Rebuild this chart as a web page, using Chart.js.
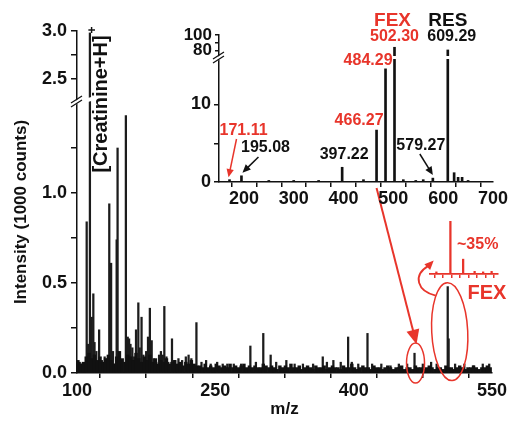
<!DOCTYPE html>
<html>
<head>
<meta charset="utf-8">
<script src="https://cdn.jsdelivr.net/npm/chart.js@4.4.1/dist/chart.umd.min.js"></script>
<style>
  html, body { margin: 0; padding: 0; background: #fff; }
  #wrap { position: relative; width: 509px; height: 434px; }
  #wrap canvas { position: absolute; }
</style>
</head>
<body>
<div id="wrap">
  <canvas id="main" width="509" height="434" style="left:0;top:0"></canvas>
  <canvas id="inset" width="349" height="210" style="left:160px;top:0"></canvas>
  <canvas id="mini" width="90" height="80" style="left:415px;top:205px"></canvas>
</div>
<script>
// main spectrum: labelled / visible peaks (m/z, intensity in 1000 counts)
const peakMz = [103, 105, 110.5, 112, 114, 116, 117.7, 119, 121, 124, 127, 130, 133, 135, 137, 139, 141, 143, 144,
  146, 149, 153, 155, 156.5, 158, 160, 162, 164, 166.5, 168, 170, 172, 175, 177, 179, 181, 183, 186, 189, 191, 193,
  194.7, 197, 199, 203, 206, 210, 214, 218, 221, 224, 229.5, 235, 240, 245, 252, 258, 263, 270, 278, 288, 294, 302,
  310, 316, 327, 336, 345, 356, 366.5, 371, 378, 386, 394, 398, 405, 415, 420, 430, 440, 449, 458, 466, 475, 484,
  490, 502, 503, 510, 520, 530, 540, 547];
const peakInt = [0.06, 0.05, 0.84, 0.16, 2.98, 0.31, 0.44, 0.17, 0.12, 0.24, 0.07, 0.09, 0.08, 0.94, 0.61, 0.12, 0.05, 0.74, 1.25,
  0.10, 0.06, 1.43, 0.20, 0.19, 0.16, 0.14, 0.09, 0.24, 0.39, 0.14, 0.31, 0.10, 0.12, 0.20, 0.36, 0.18, 0.08, 0.06, 0.10, 0.12, 0.10,
  0.37, 0.09, 0.06, 0.19, 0.07, 0.08, 0.07, 0.09, 0.10, 0.08, 0.28, 0.06, 0.07, 0.05, 0.06, 0.05, 0.05, 0.05, 0.05, 0.15, 0.06, 0.22,
  0.10, 0.06, 0.07, 0.05, 0.05, 0.05, 0.09, 0.06, 0.07, 0.06, 0.20, 0.06, 0.05, 0.22, 0.05, 0.05, 0.04, 0.05, 0.05, 0.11, 0.05, 0.06,
  0.05, 0.48, 0.19, 0.05, 0.05, 0.04, 0.05, 0.05];

// baseline noise, one value every 3 m/z starting at 101
const noiseStart = 101;
const noiseStep = 3;
const noiseInt = [0.07, 0.05, 0.06, 0.09, 0.11, 0.08, 0.10, 0.07, 0.09, 0.06, 0.08, 0.10, 0.07, 0.05, 0.09, 0.12, 0.08, 0.06,
  0.10, 0.09, 0.07, 0.11, 0.08, 0.06, 0.09, 0.07, 0.10, 0.06, 0.08, 0.05, 0.07, 0.06, 0.08, 0.05, 0.06, 0.07, 0.05, 0.06,
  0.04, 0.06, 0.05, 0.07, 0.05, 0.04,
  0.04, 0.03, 0.05, 0.03, 0.04, 0.03, 0.05, 0.04, 0.03, 0.04,
  0.03, 0.05, 0.03, 0.04, 0.03, 0.04, 0.05, 0.03, 0.04, 0.03,
  0.04, 0.03, 0.03, 0.05, 0.04, 0.03, 0.04, 0.03, 0.02, 0.04,
  0.03, 0.04, 0.03, 0.05, 0.03, 0.03, 0.04, 0.02, 0.03, 0.04,
  0.03, 0.02, 0.04, 0.03, 0.03, 0.04, 0.02, 0.03, 0.04, 0.03,
  0.03, 0.02, 0.04, 0.03, 0.03, 0.05, 0.03, 0.02, 0.03, 0.04,
  0.03, 0.03, 0.02, 0.04, 0.03, 0.03, 0.02, 0.03, 0.04, 0.03,
  0.02, 0.03, 0.03, 0.04, 0.02, 0.03, 0.03, 0.02, 0.04, 0.03,
  0.03, 0.02, 0.03, 0.04, 0.03, 0.02, 0.03, 0.03, 0.02, 0.04,
  0.03, 0.03, 0.02, 0.03, 0.04, 0.03, 0.02, 0.03, 0.03, 0.04,
  0.03, 0.02, 0.03, 0.03, 0.04, 0.03];
const mainXLabels = [100, 250, 400, 550];
const mainYLabels = [0, 0.5, 1.0, 2.5, 3.0];

// inset MS/MS spectrum (relative intensity, %)
const insetMz = [171.11, 195.08, 250, 300, 350, 397.22, 440, 466.27, 484.29, 502.30, 520, 545, 560, 579.27, 609.29, 622, 630, 638, 650];
const insetInt = [0.3, 0.8, 0.2, 0.2, 0.2, 1.9, 0.3, 6.7, 14.6, 84, 0.3, 0.2, 0.3, 0.5, 80.5, 1.2, 0.6, 0.6, 0.2];
const insetXLabels = [200, 300, 400, 500, 600, 700];
const insetYLabels = [0, 10, 80, 100];

// small red zoom of the FEX peak
const miniMz = [499, 502.3, 505.3, 508, 510, 512];
const miniInt = [4, 100, 28, 5, 4, 5];

const RED = '#e8352b';
const INK = '#111';
const FONT = '"Liberation Sans", Arial, sans-serif';
const INSET_LEFT = 160;

Chart.defaults.font.family = FONT;
Chart.defaults.font.weight = 'bold';
Chart.defaults.color = INK;

function txt(ctx, s, x, y, color, size, align) {
  ctx.save();
  ctx.font = 'bold ' + size + 'px ' + FONT;
  ctx.fillStyle = color;
  ctx.textAlign = align || 'center';
  ctx.textBaseline = 'middle';
  ctx.fillText(s, x, y);
  ctx.restore();
}

function arrow(ctx, x1, y1, x2, y2, color, w, head) {
  const a = Math.atan2(y2 - y1, x2 - x1);
  ctx.save();
  ctx.strokeStyle = color;
  ctx.fillStyle = color;
  ctx.lineWidth = w;
  ctx.beginPath();
  ctx.moveTo(x1, y1);
  ctx.lineTo(x2 - Math.cos(a) * head * 0.8, y2 - Math.sin(a) * head * 0.8);
  ctx.stroke();
  ctx.beginPath();
  ctx.moveTo(x2, y2);
  ctx.lineTo(x2 - head * Math.cos(a - 0.42), y2 - head * Math.sin(a - 0.42));
  ctx.lineTo(x2 - head * Math.cos(a + 0.42), y2 - head * Math.sin(a + 0.42));
  ctx.closePath();
  ctx.fill();
  ctx.restore();
}

function axisBreak(ctx, x0, x1, y) {
  ctx.save();
  ctx.fillStyle = '#fff';
  ctx.beginPath();
  ctx.moveTo(x0, y + 2);
  ctx.lineTo(x1, y - 2);
  ctx.lineTo(x1, y - 6);
  ctx.lineTo(x0, y - 2);
  ctx.closePath();
  ctx.fill();
  ctx.strokeStyle = INK;
  ctx.lineWidth = 1.3;
  ctx.beginPath();
  ctx.moveTo(x0 - 4, y + 4);
  ctx.lineTo(x0 + 7, y - 3);
  ctx.moveTo(x0 - 4, y);
  ctx.lineTo(x0 + 7, y - 7);
  ctx.stroke();
  ctx.restore();
}

function fixWidth(w) { return s => { s.width = w; }; }
function fixHeight(h) { return s => { s.height = h; }; }
function tickGrid(len, color) {
  return { display: true, drawOnChartArea: false, drawTicks: true, tickLength: len, color: color || INK, lineWidth: 1.5 };
}
function pick(list) { return v => list.includes(v) ? (Number.isInteger(v) && list === mainYLabels ? v.toFixed(1) : String(v)) : ''; }

// ---------- inset chart ----------
const insetLow = insetMz.map((x, i) => ({ x, y: Math.min(insetInt[i], 16) }));
const insetHigh = insetMz.map((x, i) => insetInt[i] > 70 ? { x, y: [70, insetInt[i]] } : null).filter(Boolean);

const insetDecor = {
  id: 'insetDecor',
  afterDatasetsDraw(chart) {
    const ca = chart.chartArea;
    const b = chart.scales.y.top;
    const ctx = chart.ctx;
    ctx.save();
    ctx.fillStyle = '#fff';
    ctx.fillRect(ca.left + 3, b - 2, ca.right - ca.left, 3);
    ctx.restore();
    axisBreak(ctx, ca.left - 2, ca.left + 6, b + 1);
  },
  afterDraw(chart) {
    const ctx = chart.ctx;
    const xs = chart.scales.x;
    const ys = chart.scales.y;
    const px = v => xs.getPixelForValue(v);
    txt(ctx, 'FEX', px(502.3) - 2, 21, RED, 19);
    txt(ctx, 'RES', px(609.29), 21, INK, 19);
    txt(ctx, '502.30', px(502.3), 37, RED, 16);
    txt(ctx, '609.29', px(609.29) + 4, 37, INK, 16);
    txt(ctx, '484.29', px(484.29) + 7 - INSET_LEFT + INSET_LEFT, 61, RED, 16, 'right');
    txt(ctx, '466.27', px(466.27) + 7, 121, RED, 16, 'right');
    txt(ctx, '171.11', px(171.11) + 14, 131, RED, 16);
    txt(ctx, '195.08', px(195.08) + 24, 148, INK, 16);
    txt(ctx, '397.22', px(397.22) + 2, 155, INK, 16);
    txt(ctx, '579.27', px(579.27) - 12, 146, INK, 16);
    arrow(ctx, px(171.11) + 7, 139, px(171.11) - 1, ys.getPixelForValue(0.6), RED, 1.5, 9);
    arrow(ctx, px(195.08) + 17, 157, px(195.08) + 1, ys.getPixelForValue(1.2), INK, 1.5, 9);
    arrow(ctx, px(579.27) - 13, 154, px(579.27), ys.getPixelForValue(0.9), INK, 1.5, 9);
  }
};

const insetChart = new Chart(document.getElementById('inset'), {
  type: 'bar',
  data: {
    datasets: [
      { data: insetLow, yAxisID: 'y', backgroundColor: INK, barThickness: 2, grouped: false, borderWidth: 0 },
      { data: insetHigh, yAxisID: 'y2', backgroundColor: INK, barThickness: 2, grouped: false, borderWidth: 0 }
    ]
  },
  options: {
    responsive: false,
    animation: false,
    events: [],
    layout: { padding: { top: 35, right: 16, left: 0, bottom: 0 } },
    plugins: { legend: { display: false }, tooltip: { enabled: false } },
    scales: {
      x: {
        type: 'linear', min: 150, max: 700, offset: false,
        grid: tickGrid(5), border: { display: true, color: INK, width: 1.5 },
        ticks: { stepSize: 50, autoSkip: false, maxRotation: 0, padding: 1, font: { size: 18, weight: 'bold' },
          callback: v => insetXLabels.includes(v) ? String(v) : '' },
        afterFit: fixHeight(28)
      },
      y: {
        type: 'linear', min: 0, max: 16, stack: 'ins', stackWeight: 124, position: 'left',
        grid: tickGrid(5), border: { display: true, color: INK, width: 1.5 },
        ticks: { stepSize: 5, autoSkip: false, padding: 3, font: { size: 18, weight: 'bold' },
          callback: v => insetYLabels.includes(v) ? String(v) : '' },
        afterBuildTicks: s => { s.ticks = s.ticks.filter(t => t.value < 16); },
        afterFit: fixWidth(59)
      },
      y2: {
        type: 'linear', min: 70, max: 100, stack: 'ins', stackWeight: 23, position: 'left',
        grid: tickGrid(4), border: { display: true, color: INK, width: 1.5 },
        ticks: { stepSize: 10, autoSkip: false, padding: 3, font: { size: 17, weight: 'bold' },
          callback: v => insetYLabels.includes(v) ? String(v) : '' },
        afterBuildTicks: s => { s.ticks = s.ticks.filter(t => t.value > 70); },
        afterFit: fixWidth(59)
      }
    }
  },
  plugins: [insetDecor]
});

// ---------- mini red chart ----------
new Chart(document.getElementById('mini'), {
  type: 'bar',
  data: {
    datasets: [{ data: miniMz.map((x, i) => ({ x, y: miniInt[i] })), backgroundColor: RED, barThickness: 1.6, borderWidth: 0 }]
  },
  options: {
    responsive: false,
    animation: false,
    events: [],
    layout: { padding: { top: 16, right: 7, left: 15, bottom: 0 } },
    plugins: { legend: { display: false }, tooltip: { enabled: false } },
    scales: {
      x: {
        type: 'linear', min: 497.5, max: 513.5, offset: false,
        grid: tickGrid(4, RED), border: { display: true, color: RED, width: 1.8 },
        ticks: { display: false, stepSize: 2, autoSkip: false },
        afterFit: fixHeight(11)
      },
      y: { display: false, min: 0, max: 100 }
    }
  }
});

// ---------- main chart ----------
const noiseData = noiseInt.map((v, i) => ({ x: noiseStart + i * noiseStep, y: v }));
const mainLow = peakMz.map((x, i) => ({ x, y: Math.min(peakInt[i], 1.5) }));
const mainHigh = peakMz.map((x, i) => peakInt[i] > 2.25 ? { x, y: [2.25, peakInt[i]] } : null).filter(Boolean);

const mainDecor = {
  id: 'mainDecor',
  afterDatasetsDraw(chart) {
    const ca = chart.chartArea;
    const b = chart.scales.y.top;
    const ctx = chart.ctx;
    ctx.save();
    ctx.fillStyle = '#fff';
    ctx.beginPath();
    ctx.moveTo(ca.left + 3, b + 1);
    ctx.lineTo(ca.left + 22, b - 4);
    ctx.lineTo(ca.left + 22, b - 8);
    ctx.lineTo(ca.left + 3, b - 3);
    ctx.closePath();
    ctx.fill();
    ctx.restore();
    axisBreak(ctx, ca.left - 2, ca.left + 6, b);
  },
  afterDraw(chart) {
    const ctx = chart.ctx;
    const xs = chart.scales.x;
    const ys = chart.scales.y;
    const px = v => xs.getPixelForValue(v);

    // y axis title
    ctx.save();
    ctx.translate(21, 212);
    ctx.rotate(-Math.PI / 2);
    txt(ctx, 'Intensity (1000 counts)', 0, 0, INK, 17);
    ctx.restore();

    // creatinine label
    ctx.save();
    ctx.translate(px(114) + 12, 104);
    ctx.rotate(-Math.PI / 2);
    txt(ctx, '[Creatinine+H]', 0, 0, INK, 20);
    txt(ctx, '+', 74, -9, INK, 12);
    ctx.restore();

    // arrow from inset 466.27 to the main 466 peak
    const ix = INSET_LEFT + insetChart.scales.x.getPixelForValue(466.27);
    const iy = insetChart.chartArea.bottom + 6;
    arrow(ctx, ix, iy, px(466) + 2, ys.getPixelForValue(0.16), RED, 2, 16);

    ctx.save();
    ctx.strokeStyle = RED;
    ctx.lineWidth = 1.5;
    ctx.beginPath();
    ctx.ellipse(px(466) + 1, ys.getPixelForValue(0.055), 9, 20, 0, 0, Math.PI * 2);
    ctx.stroke();
    const cx = px(502) + 2;
    const cy = ys.getPixelForValue(0.23);
    ctx.beginPath();
    ctx.ellipse(cx, cy, 18, 49, -0.05, 0, Math.PI * 2);
    ctx.stroke();
    // curved arrow up to the zoomed view
    ctx.lineWidth = 1.8;
    ctx.beginPath();
    ctx.moveTo(cx - 14, cy - 36);
    ctx.bezierCurveTo(cx - 32, cy - 40, cx - 38, cy - 56, cx - 21, cy - 66);
    ctx.stroke();
    ctx.restore();
    arrow(ctx, cx - 22, cy - 65, cx - 16, cy - 71, RED, 1.8, 10);

    txt(ctx, '~35%', 457, 245, RED, 16, 'left');
    txt(ctx, 'FEX', 487, 293, RED, 20);
  }
};

new Chart(document.getElementById('main'), {
  type: 'bar',
  data: {
    datasets: [
      { data: noiseData, yAxisID: 'y', backgroundColor: INK, barThickness: 2.8, grouped: false, borderWidth: 0 },
      { data: mainLow, yAxisID: 'y', backgroundColor: '#1c1c1c', barThickness: 1.6, grouped: false, borderWidth: 0 },
      { data: mainHigh, yAxisID: 'y2', backgroundColor: '#1c1c1c', barThickness: 1.6, grouped: false, borderWidth: 0 }
    ]
  },
  options: {
    responsive: false,
    animation: false,
    events: [],
    layout: { padding: { top: 31, right: 17, left: 0, bottom: 0 } },
    plugins: { legend: { display: false }, tooltip: { enabled: false } },
    scales: {
      x: {
        type: 'linear', min: 100, max: 550, offset: false,
        grid: tickGrid(5), border: { display: true, color: INK, width: 1.5 },
        ticks: { stepSize: 50, autoSkip: false, maxRotation: 0, padding: 2, font: { size: 18, weight: 'bold' },
          callback: v => mainXLabels.includes(v) ? String(v) : '' },
        title: { display: true, text: 'm/z', font: { size: 17, weight: 'bold' }, padding: { top: 0, bottom: 14 } },
        afterFit: fixHeight(61)
      },
      y: {
        type: 'linear', min: 0, max: 1.5, stack: 'main', stackWeight: 270, position: 'left',
        grid: tickGrid(6), border: { display: true, color: INK, width: 1.5 },
        ticks: { stepSize: 0.25, autoSkip: false, padding: 4, font: { size: 18, weight: 'bold' },
          callback: v => mainYLabels.includes(v) ? v.toFixed(1) : '' },
        afterBuildTicks: s => { s.ticks = s.ticks.filter(t => t.value < 1.4); },
        afterFit: fixWidth(77)
      },
      y2: {
        type: 'linear', min: 2.25, max: 3.0, stack: 'main', stackWeight: 72, position: 'left',
        grid: tickGrid(6), border: { display: true, color: INK, width: 1.5 },
        ticks: { stepSize: 0.25, autoSkip: false, padding: 4, font: { size: 18, weight: 'bold' },
          callback: v => mainYLabels.includes(v) ? v.toFixed(1) : '' },
        afterBuildTicks: s => { s.ticks = s.ticks.filter(t => t.value > 2.3); },
        afterFit: fixWidth(77)
      }
    }
  },
  plugins: [mainDecor]
});
</script>
</body>
</html>
